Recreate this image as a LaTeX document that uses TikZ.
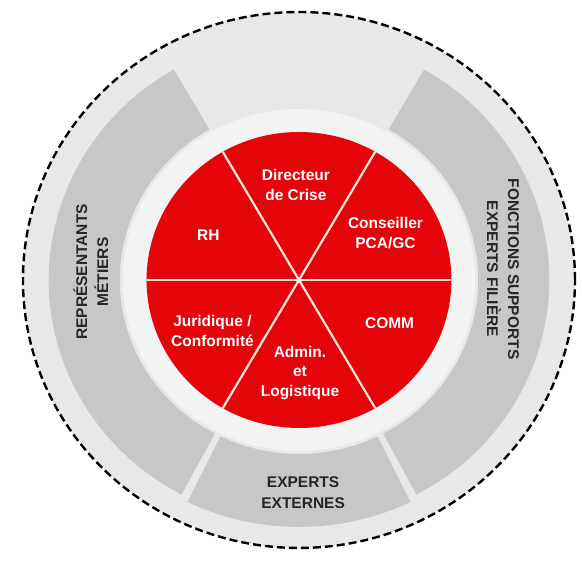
\documentclass[tikz,border=0pt]{standalone}
\usepackage{fontspec}
\setmainfont{Liberation Sans}
\definecolor{crise}{RGB}{228,4,10}
\definecolor{bande}{RGB}{200,198,198}
\definecolor{fond}{RGB}{233,232,233}
\definecolor{anneau}{RGB}{242,243,243}
\definecolor{trait}{RGB}{250,228,216}
\definecolor{texte}{RGB}{38,38,38}
\tikzset{
  sector label/.style={
    text=white,
    font=\bfseries\fontsize{15.5}{19.5}\selectfont,
    align=center,
  },
  band label/.style={
    text=texte,
    font=\bfseries\fontsize{15.5}{21}\selectfont,
    align=center,
  },
  band/.style={
    fill=bande,
  },
}

\begin{document}
\begin{tikzpicture}[x=1.03pt, y=1pt]
      \useasboundingbox (-290.3,-285) rectangle (274.8,280);
      \fill[white] (-290.3,-285) rectangle (274.8,280);

      \fill[fond] (0,0) circle[radius=268];
      \draw[line width=2.4pt, dash pattern=on 8pt off 4pt] (0,0) circle[radius=268];
      \fill[anneau] (0,0) circle[radius=171];

      % outer bands
      \fill[band] (120:243) arc[start angle=120, end angle=242, radius=243]
        -- (242:174) arc[start angle=242, end angle=120, radius=174] -- cycle;
      \fill[band] (244:247) arc[start angle=244, end angle=296, radius=247]
        -- (296:174) arc[start angle=296, end angle=244, radius=174] -- cycle;
      \fill[band] (-62:243) arc[start angle=-62, end angle=60, radius=243]
        -- (60:174) arc[start angle=60, end angle=-62, radius=174] -- cycle;

      % crisis cell
      \fill[crise] (0,0) circle[radius=148];
      \coordinate (c) at (0,0);
      \draw[trait, line width=2.2pt] (180:148) -- (c) -- (0:148);
      \draw[trait, line width=2.2pt] (240:148) -- (c) -- (60:148);
      \draw[trait, line width=2.2pt] (300:148) -- (c) -- (120:148);
      \fill[white] (c) circle[radius=2.5];

      \node[sector label] (dir) at (-3,95) {Directeur\\de Crise};
      \node[sector label] (pca) at (84,47) {Conseiller\\PCA/GC};
      \node[sector label] (rh) at (-88,45) {RH};
      \node[sector label] (jur) at (-84,-51) {Juridique /\\Conformité};
      \node[sector label] (comm) at (88,-43) {COMM};
      \node[sector label] (adm) at (1,-93) {Admin.\\et\\Logistique};

      \node[band label, rotate=90] (metiers) at (-202,8) {REPRÉSENTANTS\\MÉTIERS};
      \node[band label, rotate=-90] (supports) at (198,11) {FONCTIONS SUPPORTS\\EXPERTS FILIÈRE};
      \node[band label] (externes) at (4,-213) {EXPERTS\\EXTERNES};
    \end{tikzpicture}
\end{document}
